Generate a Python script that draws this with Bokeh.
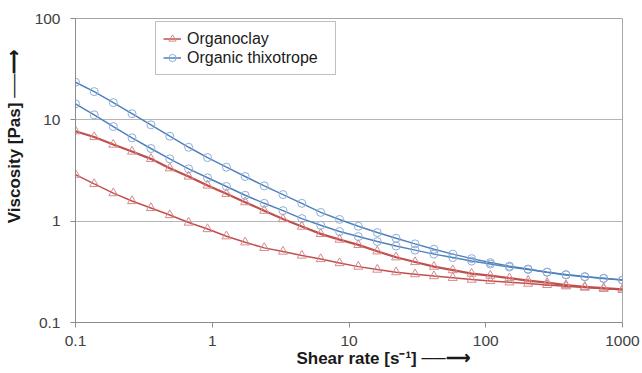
from bokeh.plotting import figure
from bokeh.models import Range1d, FixedTicker, CustomJSTickFormatter, Legend, LegendItem
from bokeh.embed import file_html
from bokeh.resources import INLINE

# Shear rate [1/s]
shear_rate = [0.1, 0.137, 0.189, 0.259, 0.356, 0.489, 0.672, 0.924, 1.27, 1.74,
              2.40, 3.29, 4.52, 6.21, 8.53, 11.7, 16.1, 22.1, 30.4, 41.8,
              57.4, 78.8, 108, 149, 204, 281, 386, 530, 728, 1000]

# Viscosity [Pas]
thixo_a = [23.5, 19.0, 14.8, 11.5, 8.93, 6.89, 5.36, 4.24, 3.41, 2.76,
           2.23, 1.83, 1.50, 1.22, 1.04, 0.891, 0.772, 0.678, 0.597, 0.528,
           0.473, 0.427, 0.390, 0.360, 0.337, 0.314, 0.297, 0.284, 0.273, 0.262]
thixo_b = [14.4, 11.2, 8.59, 6.64, 5.21, 4.12, 3.28, 2.68, 2.20, 1.80,
           1.50, 1.27, 1.06, 0.911, 0.790, 0.705, 0.629, 0.568, 0.518, 0.473,
           0.437, 0.404, 0.377, 0.352, 0.333, 0.313, 0.295, 0.282, 0.272, 0.262]
clay_a = [7.72, 6.77, 5.70, 4.87, 4.12, 3.33, 2.76, 2.25, 1.86, 1.54,
          1.27, 1.05, 0.884, 0.749, 0.658, 0.583, 0.504, 0.440, 0.395, 0.356,
          0.329, 0.304, 0.290, 0.274, 0.259, 0.247, 0.234, 0.225, 0.218, 0.212]
clay_b = [2.88, 2.33, 1.89, 1.58, 1.35, 1.15, 0.969, 0.836, 0.710, 0.619,
          0.545, 0.501, 0.458, 0.423, 0.386, 0.356, 0.333, 0.314, 0.300, 0.287,
          0.276, 0.265, 0.257, 0.249, 0.242, 0.235, 0.228, 0.221, 0.215, 0.210]

x_ticks = [0.1, 1, 10, 100, 1000]
y_ticks = [0.1, 1, 10, 100]
series_names = ["Organoclay", "Organic thixotrope"]
x_title = "Shear rate [s\u207b\u00b9]"
y_title = "Viscosity [Pas]"

RED = "#c0504d"
RED_M = "#d6898a"
BLUE = "#4f81bd"
BLUE_M = "#8eaed8"
FONT = "Liberation Sans"
PAD = "\u2003" * 4          # keeps the title centred once the arrow is appended
ARROW = " \u2500\u2500\u27f6"

p = figure(x_axis_type="log", y_axis_type="log",
           x_range=Range1d(0.1, 1000), y_range=Range1d(0.1, 100),
           frame_width=547, frame_height=304,
           min_border_left=75, min_border_right=18, min_border_top=18, min_border_bottom=51,
           output_backend="svg", toolbar_location=None)
p.outline_line_color = "#a6a6a6"
p.background_fill_color = "white"
p.border_fill_color = "white"

fmt = CustomJSTickFormatter(code="return String(tick);")
for ax, ticks in ((p.xaxis[0], x_ticks), (p.yaxis[0], y_ticks)):
    ax.ticker = FixedTicker(ticks=ticks, minor_ticks=[])
    ax.formatter = fmt
    ax.axis_line_color = "#8c8c8c"
    ax.major_tick_line_color = "#8c8c8c"
    ax.major_tick_out = 5
    ax.major_tick_in = 0
    ax.minor_tick_line_color = None
    ax.major_label_text_font = FONT
    ax.major_label_text_font_size = "15.5px"
    ax.major_label_text_color = "#404040"
    ax.axis_label_text_font = FONT
    ax.axis_label_text_font_size = "17px"
    ax.axis_label_text_font_style = "bold"
    ax.axis_label_text_color = "#1a1a1a"
p.xaxis.major_label_standoff = 8
p.yaxis.major_label_standoff = 10
p.xaxis.axis_label = PAD + x_title + ARROW
p.yaxis.axis_label = PAD + y_title + ARROW
p.xaxis.axis_label_standoff = 0
p.yaxis.axis_label_standoff = 8

p.xgrid.visible = False
p.ygrid.ticker = FixedTicker(ticks=y_ticks, minor_ticks=[])
p.ygrid.grid_line_color = "#b5b5b5"
p.ygrid.grid_line_width = 1

# curves
r_ta = p.line(shear_rate, thixo_a, line_color=BLUE, line_width=1.5)
m_ta = p.scatter(shear_rate, thixo_a, marker="circle", size=8, fill_color=None,
                 line_color=BLUE_M, line_width=1)
r_tb = p.line(shear_rate, thixo_b, line_color=BLUE, line_width=1.5)
p.scatter(shear_rate, thixo_b, marker="circle", size=8, fill_color=None,
          line_color=BLUE_M, line_width=1)
r_ca = p.line(shear_rate, clay_a, line_color=RED, line_width=2.2)
m_ca = p.scatter(shear_rate, clay_a, marker="triangle", size=9, fill_color=None,
                 line_color=RED_M, line_width=1)
r_cb = p.line(shear_rate, clay_b, line_color=RED, line_width=1.5)
p.scatter(shear_rate, clay_b, marker="triangle", size=9, fill_color=None,
          line_color=RED_M, line_width=1)

legend = Legend(items=[LegendItem(label=series_names[0], renderers=[r_cb, m_ca]),
                       LegendItem(label=series_names[1], renderers=[r_tb, m_ta])],
                location=(80, 247))
legend.label_text_font = FONT
legend.label_text_font_size = "16px"
legend.label_text_color = "#1a1a1a"
legend.glyph_width = 18
legend.glyph_height = 19
legend.label_height = 19
legend.label_width = 141
legend.label_standoff = 6
legend.spacing = 0
legend.padding = 7
legend.margin = 0
legend.border_line_color = "#7f7f7f"
legend.border_line_width = 1
legend.background_fill_alpha = 1
p.add_layout(legend)

open("out.html", "w").write(file_html(p, INLINE))
